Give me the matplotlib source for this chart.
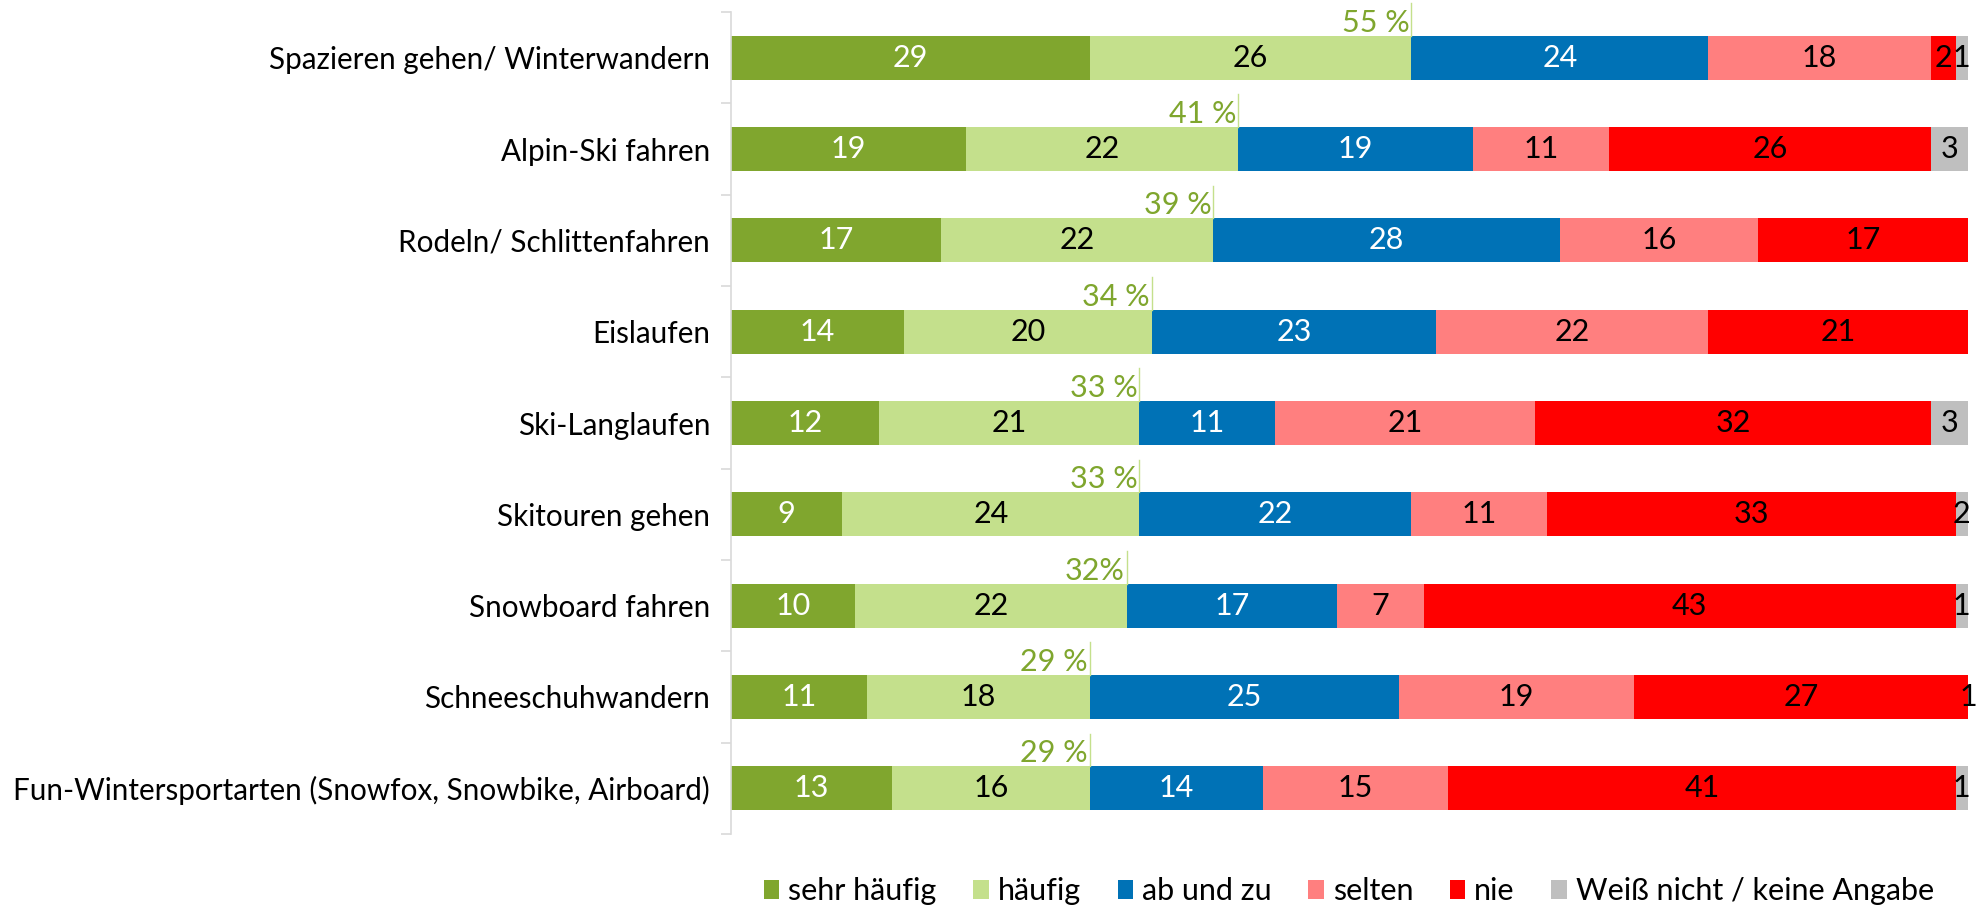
import matplotlib
matplotlib.use("Agg")
import matplotlib.pyplot as plt
from matplotlib.patches import Patch
import numpy as np

plt.rcParams['font.family'] = ['Lato', 'DejaVu Sans']

categories = [
    "Spazieren gehen/ Winterwandern",
    "Alpin-Ski fahren",
    "Rodeln/ Schlittenfahren",
    "Eislaufen",
    "Ski-Langlaufen",
    "Skitouren gehen",
    "Snowboard fahren",
    "Schneeschuhwandern",
    "Fun-Wintersportarten (Snowfox, Snowbike, Airboard)",
]
series_names = ["sehr häufig", "häufig", "ab und zu", "selten", "nie", "Weiß nicht / keine Angabe"]
sehr_haeufig = [29, 19, 17, 14, 12, 9, 10, 11, 13]
haeufig      = [26, 22, 22, 20, 21, 24, 22, 18, 16]
ab_und_zu    = [24, 19, 28, 23, 11, 22, 17, 25, 14]
selten       = [18, 11, 16, 22, 21, 11, 7, 19, 15]
nie          = [2, 26, 17, 21, 32, 33, 43, 27, 41]
weiss_nicht  = [1, 3, 0, 0, 3, 2, 1, 1, 1]
top2_labels = ["55 %", "41 %", "39 %", "34 %", "33 %", "33 %", "32%", "29 %", "29 %"]

series = [sehr_haeufig, haeufig, ab_und_zu, selten, nie, weiss_nicht]
colors = ["#80A62E", "#C4E08C", "#0072B6", "#FF7F7F", "#FF0000", "#BFBFBF"]
text_colors = ["white", "black", "white", "black", "black", "black"]
green_txt = "#7FA62E"

W, H = 1977, 908
fig = plt.figure(figsize=(W / 100, H / 100), dpi=100)
ax = fig.add_axes([731 / W, 1 - 834 / H, (1968 - 731) / W, (834 - 12) / H])

y = np.arange(len(categories))
left = np.zeros(len(categories))
fs = 22
for vals, col, tc in zip(series, colors, text_colors):
    vals = np.array(vals, dtype=float)
    ax.barh(y, vals, left=left, height=0.48, color=col, edgecolor='none')
    for yi, (l, v) in enumerate(zip(left, vals)):
        if v > 0:
            right = min(l + v, 100)
            ax.text((l + right) / 2, yi, f"{int(v)}", ha='center', va='center',
                    color=tc, fontsize=fs, clip_on=False)
    left = left + vals

# top-2 labels with leader line
top2 = np.array(sehr_haeufig) + np.array(haeufig)
for yi, (x, lab) in enumerate(zip(top2, top2_labels)):
    ytop = yi - 0.24
    ax.plot([x, x], [ytop, ytop - 0.36], color="#C4E08C", lw=1.0, clip_on=False)
    ax.text(x - 0.15, ytop + 0.01, lab, ha='right', va='bottom', color=green_txt,
            fontsize=fs, clip_on=False)

ax.set_xlim(0, 100)
ax.set_ylim(len(categories) - 0.5, -0.5)
ax.set_xticks([])
ax.set_yticks(y)
ax.set_yticklabels(categories, fontsize=21.3, color='black')
ax.set_yticks(np.arange(-0.5, len(categories) + 0.5, 1), minor=True)
ax.tick_params(axis='y', which='major', length=0, pad=15)
ax.tick_params(axis='y', which='minor', length=7.2, width=1.2, color='#D9D9D9')
for s in ['top', 'right', 'bottom']:
    ax.spines[s].set_visible(False)
ax.spines['left'].set_color('#D9D9D9')
ax.spines['left'].set_linewidth(1.2)

handles = [Patch(facecolor=c, edgecolor='none') for c in colors]
fig.legend(handles, series_names, loc='center', bbox_to_anchor=(1349 / W, 1 - 891 / H),
           ncol=6, frameon=False, fontsize=fs, handlelength=0.5, handleheight=0.6,
           handletextpad=0.3, columnspacing=1.2)

fig.savefig("out.png", dpi=100)
